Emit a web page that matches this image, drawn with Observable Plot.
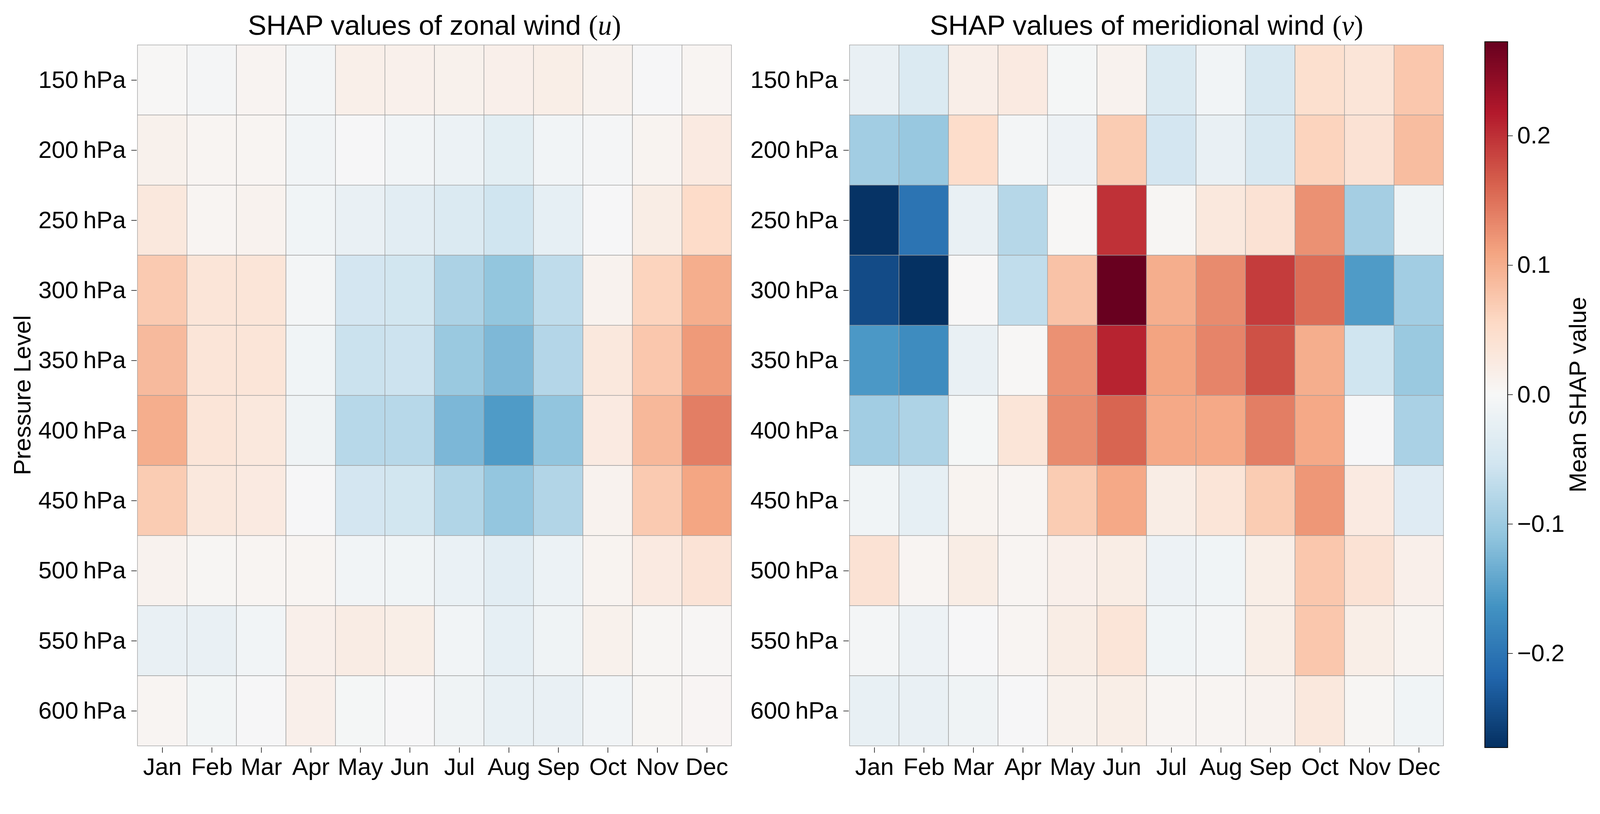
<!DOCTYPE html>
<html><head><meta charset="utf-8">
<script src="https://cdn.jsdelivr.net/npm/d3@7"></script>
<script src="https://cdn.jsdelivr.net/npm/@observablehq/plot@0.6"></script>
<style>
html,body{margin:0;padding:0;background:#fff;overflow:hidden;}
#root{position:absolute;left:0;top:0;width:4202px;height:2083px;overflow:hidden;transform-origin:0 0;font-family:"Liberation Sans",Arial,sans-serif;}
#root > svg{position:absolute;top:0;margin:0;max-width:none !important;overflow:visible;}
</style></head><body><div id="root"></div>
<script>
const months = ["Jan","Feb","Mar","Apr","May","Jun","Jul","Aug","Sep","Oct","Nov","Dec"];
const levels = [150,200,250,300,350,400,450,500,550,600];

// Mean SHAP values of zonal wind (u): rows = levels, cols = months
const uValues = [
  [0.002,-0.005,0.007,-0.006,0.016,0.014,0.012,0.015,0.018,0.010,-0.002,0.006],
  [0.012,0.006,0.006,-0.008,-0.002,-0.008,-0.016,-0.028,-0.008,-0.005,0.008,0.025],
  [0.030,0.006,0.010,-0.010,-0.020,-0.030,-0.040,-0.055,-0.025,-0.002,0.020,0.052],
  [0.072,0.035,0.035,-0.006,-0.050,-0.053,-0.087,-0.108,-0.070,0.010,0.062,0.100],
  [0.088,0.035,0.035,-0.010,-0.060,-0.058,-0.102,-0.123,-0.080,0.030,0.075,0.118],
  [0.100,0.035,0.030,-0.012,-0.077,-0.077,-0.124,-0.155,-0.109,0.025,0.090,0.140],
  [0.070,0.030,0.025,-0.002,-0.050,-0.053,-0.082,-0.107,-0.081,0.010,0.072,0.108],
  [0.010,0.004,0.006,0.006,-0.008,-0.010,-0.018,-0.030,-0.016,0.008,0.025,0.038],
  [-0.020,-0.020,-0.008,0.015,0.022,0.018,-0.008,-0.025,-0.012,0.012,0.004,0.003],
  [0.006,-0.007,-0.002,0.015,-0.004,-0.002,-0.012,-0.022,-0.020,-0.008,0.004,0.005]
];
// Mean SHAP values of meridional wind (v)
const vValues = [
  [-0.020,-0.040,0.017,0.025,-0.004,0.010,-0.040,-0.008,-0.045,0.045,0.035,0.075],
  [-0.095,-0.104,0.050,-0.006,-0.015,0.070,-0.050,-0.020,-0.045,0.062,0.040,0.085],
  [-0.270,-0.201,-0.020,-0.078,0.002,0.199,0.004,0.030,0.040,0.125,-0.093,-0.012],
  [-0.245,-0.272,0.001,-0.068,0.080,0.272,0.100,0.130,0.191,0.153,-0.155,-0.095],
  [-0.158,-0.172,-0.020,0.002,0.125,0.210,0.110,0.135,0.175,0.100,-0.055,-0.102],
  [-0.095,-0.085,-0.004,0.035,0.130,0.160,0.105,0.105,0.140,0.105,-0.002,-0.088],
  [-0.010,-0.025,0.008,0.006,0.070,0.105,0.020,0.035,0.070,0.120,0.025,-0.035],
  [0.040,0.006,0.020,0.006,0.015,0.020,-0.015,-0.010,0.018,0.075,0.040,0.015],
  [-0.006,-0.015,-0.002,0.006,0.020,0.035,-0.010,-0.006,0.018,0.075,0.018,0.008],
  [-0.022,-0.020,-0.012,-0.002,0.012,0.018,0.006,0.006,0.010,0.030,0.004,-0.010]
];
const colorbarTicks = [-0.2,-0.1,0.0,0.1,0.2];
const colorLimit = 0.2727;
// RdBu_r stops (matplotlib)
const rdbuR = ["#053061","#2166ac","#4393c3","#92c5de","#d1e5f0","#f7f7f7","#fddbc7","#f4a582","#d6604d","#b2182b","#67001f"];

const FONT = '"Liberation Sans", Arial, sans-serif';
const W = 4202, H = 2083;
const interp = d3.piecewise(d3.interpolateRgb, rdbuR);
const colorOpts = {type: "linear", domain: [-colorLimit, colorLimit], interpolate: t => interp(t), clamp: true};
const root = document.getElementById("root");

function fit() {
  const s = document.documentElement.clientWidth / W;
  root.style.transform = `scale(${s})`;
}
fit();
window.addEventListener("resize", fit);

function heat(values, left, width, marginLeft, marginRight) {
  const data = levels.flatMap((lev, i) => months.map((m, j) => ({level: lev, month: m, value: values[i][j]})));
  const p = Plot.plot({
    width, height: H, marginLeft, marginRight, marginTop: 113, marginBottom: 121,
    style: {fontFamily: FONT, background: "transparent", color: "black", overflow: "visible"},
    x: {domain: months, padding: 0, label: null},
    y: {domain: levels, padding: 0, label: null},
    color: colorOpts,
    marks: [
      Plot.cell(data, {x: "month", y: "level", fill: "value", stroke: "#9c9c9c", strokeWidth: 1.3, inset: 0}),
      Plot.axisX({tickSize: 14, tickPadding: 13, fontSize: 63, label: null, strokeWidth: 1.5}),
      Plot.axisY({tickSize: 14, tickPadding: 15, fontSize: 63, label: null, strokeWidth: 1.5,
                  tickFormat: d => d + "\u2009hPa"})
    ]
  });
  p.style.left = left + "px";
  p.style.maxWidth = "none";
  root.appendChild(p);
}
heat(uValues, 0, 1940, 359, 1940 - 1923);
heat(vValues, 1940, 1890, 2229 - 1940, 1890 - (3793 - 1940));

// colorbar
const N = 300, step = 2 * colorLimit / N;
const ramp = d3.range(N).map(i => -colorLimit + i * step);
const cb = Plot.plot({
  width: 372, height: H, marginLeft: 69, marginRight: 243, marginTop: 109, marginBottom: 121,
  style: {fontFamily: FONT, background: "transparent", color: "black", overflow: "visible"},
  x: {domain: [0, 1], axis: null},
  y: {domain: [-colorLimit, colorLimit], label: null},
  color: colorOpts,
  marks: [
    Plot.rect(ramp, {x1: 0, x2: 1, y1: d => d, y2: d => Math.min(colorLimit, d + step * 1.6), fill: d => d + step / 2}),
    Plot.frame({stroke: "black", strokeWidth: 2}),
    Plot.axisY({anchor: "right", ticks: colorbarTicks, tickFormat: d3.format(".1f"), tickSize: 13, tickPadding: 12,
                fontSize: 63, label: null, strokeWidth: 1.5})
  ]
});
cb.style.left = "3830px";
cb.style.maxWidth = "none";
root.appendChild(cb);

// text overlay
const svg = d3.select(root).append("svg")
  .attr("width", W).attr("height", H)
  .style("position", "absolute").style("left", "0px").style("top", "0px")
  .style("pointer-events", "none")
  .attr("font-family", FONT).attr("fill", "black");

function title(cx, text, sym) {
  const t = svg.append("text").attr("x", cx).attr("y", 91).attr("text-anchor", "middle").attr("font-size", 73);
  t.append("tspan").text(text + " ");
  t.append("tspan").attr("font-family", '"Liberation Serif", "DejaVu Serif", serif').text("(");
  t.append("tspan").attr("font-family", '"Liberation Serif", "DejaVu Serif", serif').attr("font-style", "italic").text(sym);
  t.append("tspan").attr("font-family", '"Liberation Serif", "DejaVu Serif", serif').text(")");
}
title(1141, "SHAP values of zonal wind", "u");
title(3011, "SHAP values of meridional wind", "v");

svg.append("text").attr("transform", "translate(80,1037.5) rotate(-90)")
  .attr("text-anchor", "middle").attr("font-size", 63).text("Pressure Level");
svg.append("text").attr("transform", "translate(4165,1036) rotate(-90)")
  .attr("text-anchor", "middle").attr("font-size", 63).text("Mean SHAP value");
</script></body></html>
